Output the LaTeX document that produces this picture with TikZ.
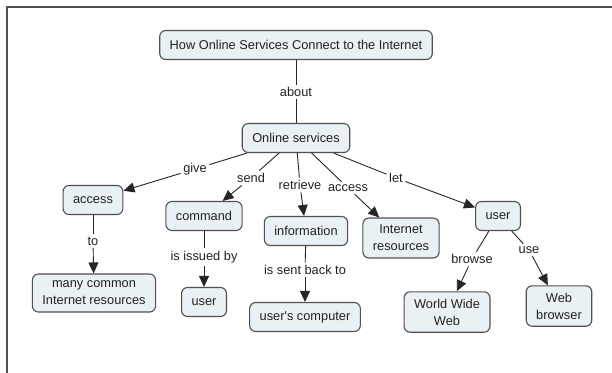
\documentclass[tikz,border=0pt]{standalone}
\usepackage{fontspec}
\setmainfont{Liberation Sans}
\usetikzlibrary{arrows.meta}
\definecolor{conceptfill}{HTML}{E9F1F4}
\definecolor{conceptline}{HTML}{505050}
\definecolor{wordtext}{HTML}{222222}

\begin{document}
\begin{tikzpicture}[x=1pt,y=-1pt,
    concept/.style={draw=conceptline,fill=conceptfill,rounded corners=6pt,line width=1.1pt,
      inner xsep=10pt,inner ysep=7pt,minimum height=29pt,align=center,
      font=\fontsize{12.8}{17}\selectfont,text=wordtext},
    linkword/.style={inner sep=2.5pt,font=\fontsize{12.8}{15}\selectfont,text=wordtext},
    link/.style={draw=black!85,line width=0.9pt},
    arr/.style={link,-{Triangle[length=11pt,width=10pt]}}]
    \useasboundingbox (0,0) rectangle (612,372);
    \fill[white] (0,0) rectangle (612,372);
    \draw[conceptline,line width=2pt] (7,373) -- (7,7) -- (613,7);

    % concepts
    \node[concept] (title) at (296,45) {How Online Services Connect to the Internet};
    \node[concept] (online) at (296,138) {Online services};
    \node[concept] (access) at (93,200) {access};
    \node[concept] (command) at (204,216) {command};
    \node[concept] (info) at (306,231) {information};
    \node[concept] (netres) at (401,238) {Internet\\resources};
    \node[concept] (user) at (498,216) {user};
    \node[concept] (many) at (94,293) {many common\\Internet resources};
    \node[concept] (cmduser) at (204,302) {user};
    \node[concept] (usercomp) at (305,317) {user\textquotesingle s computer};
    \node[concept] (www) at (447,312) {World Wide\\Web};
    \node[concept] (browser) at (559,306) {Web\\browser};

    % linking words
    \node[linkword] (labout) at (296,92) {about};
    \node[linkword] (labgive) at (195,169) {give};
    \node[linkword] (labsend) at (251,178) {send};
    \node[linkword] (labretrieve) at (300,185) {retrieve};
    \node[linkword] (labaccess) at (348,188) {access};
    \node[linkword] (lablet) at (396,178) {let};
    \node[linkword] (labto) at (93,241) {to};
    \node[linkword] (labissued) at (204,257) {is issued by};
    \node[linkword] (labsent) at (305,270) {is sent back to};
    \node[linkword] (labbrowse) at (472,259) {browse};
    \node[linkword] (labuse) at (529,250) {use};

    \draw[link] (title) -- (labout) -- (online);
    \foreach \from/\lab/\to in {online/labgive/access, online/labsend/command,
        online/labretrieve/info, online/labaccess/netres, online/lablet/user,
        access/labto/many, command/labissued/cmduser, info/labsent/usercomp,
        user/labbrowse/www, user/labuse/browser} {
        \draw[link] (\from) -- (\lab);
        \draw[arr] (\lab) -- (\to);
    }
\end{tikzpicture}
\end{document}
